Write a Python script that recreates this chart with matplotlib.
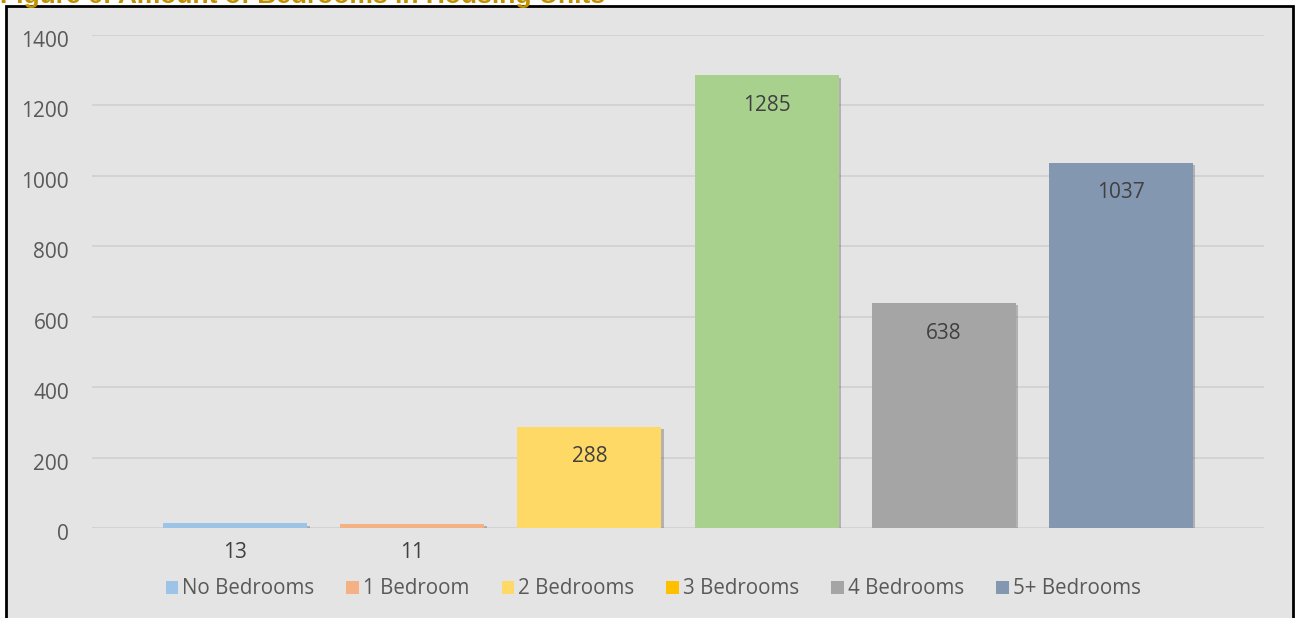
import numpy as np
import matplotlib.pyplot as plt
import matplotlib.patheffects as pe
import matplotlib.transforms as mtransforms
from matplotlib.patches import Rectangle, Patch

categories = ["No Bedrooms", "1 Bedroom", "2 Bedrooms", "3 Bedrooms", "4 Bedrooms", "5+ Bedrooms"]
values = [13, 11, 288, 1285, 638, 1037]
bar_colors = ["#9DC3E6", "#F4B183", "#FFD966", "#A9D18E", "#A5A5A5", "#8497B0"]
legend_colors = ["#9DC3E6", "#F4B183", "#FFD966", "#FFC000", "#A5A5A5", "#8497B0"]
title = "Figure 6: Amount of Bedrooms in Housing Units"

bg = "#E4E4E4"
fig = plt.figure(figsize=(12.96, 6.18), dpi=100, facecolor="white")

# chart area box with black border (drawn behind the axes)
W, H = 1296, 618
fig.patches.append(Rectangle((6 / W, -0.01), (1293 - 6) / W, 1 - 6 / H + 0.01,
                             transform=fig.transFigure, facecolor=bg,
                             edgecolor="black", linewidth=2, zorder=-1))

# title, mostly cut off at the top edge like in the source document
fig.text(0.0, 1 - 3 / H, title, fontsize=19, fontweight="bold", color="#BF9000",
         family="Liberation Sans", ha="left", va="baseline")

ax = fig.add_axes([92 / W, 1 - 528 / H, (1264 - 92) / W, (528 - 35) / H])
ax.patch.set_alpha(0)

x = np.arange(len(categories))
bars = ax.bar(x, values, width=144 / 177, color=bar_colors, zorder=3)
for b in bars:
    b.set_path_effects([pe.SimplePatchShadow(offset=(2, -1.5), shadow_rgbFace="#555555", alpha=0.35),
                        pe.Normal()])

ax.set_xlim(-0.81, 5.81)
ax.set_ylim(0, 1400)
ax.set_yticks(np.arange(0, 1401, 200))
ax.set_xticks([])
ax.grid(axis="y", color="#D2D2D2", linewidth=1.3, zorder=0)
for s in ax.spines.values():
    s.set_visible(False)
ax.tick_params(axis="y", length=0, pad=16.5, labelsize=15, labelcolor="#595959")
# labels sit a few pixels below their gridlines in the original
shift = mtransforms.ScaledTranslation(0, -4 / 100, fig.dpi_scale_trans)
for t in ax.get_yticklabels():
    t.set_family("Open Sans")
    t.set_transform(t.get_transform() + shift)

for xi, v in zip(x, values):
    if v < 100:
        ax.annotate(str(v), (xi, 0), xytext=(0, -18), textcoords="offset points",
                    ha="center", va="center", fontsize=15, color="#404040",
                    family="Open Sans", annotation_clip=False)
    else:
        ax.annotate(str(v), (xi, v), xytext=(0, -21.5), textcoords="offset points",
                    ha="center", va="center", fontsize=15, color="#404040",
                    family="Open Sans", zorder=4)

handles = [Patch(facecolor=c, edgecolor="none") for c in legend_colors]
leg = fig.legend(handles, categories, loc="center", bbox_to_anchor=(0.504, 1 - 589 / H),
                 ncol=6, frameon=False, handlelength=0.62, handleheight=0.62,
                 handletextpad=0.2, columnspacing=1.55,
                 prop={"family": "Open Sans", "size": 14.8})
for t in leg.get_texts():
    t.set_color("#595959")

plt.savefig("out.png", dpi=100, facecolor="white")
